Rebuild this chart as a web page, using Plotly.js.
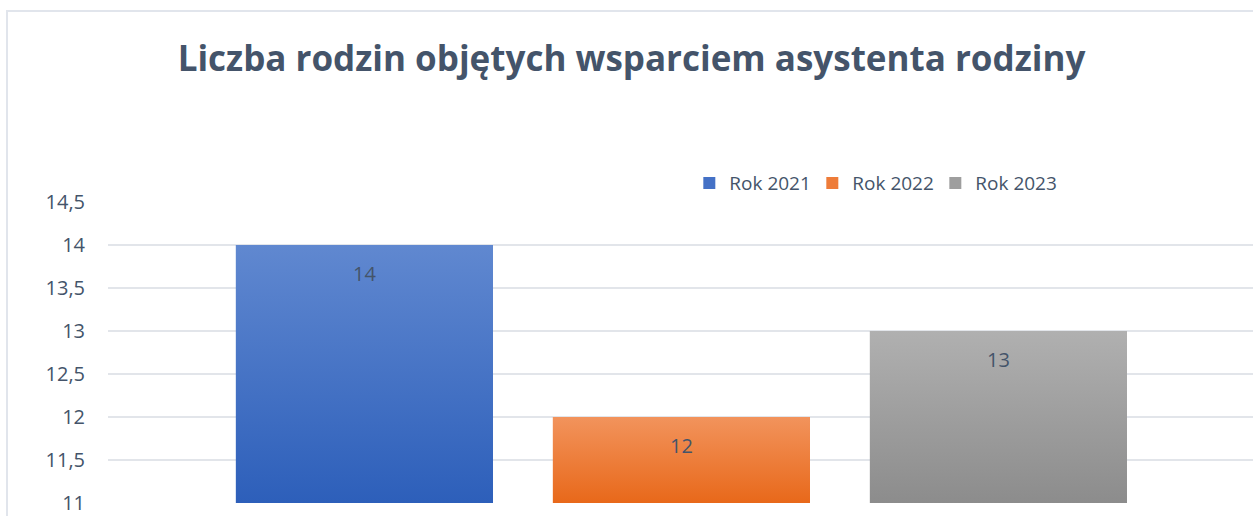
<!DOCTYPE html>
<html>
<head>
<meta charset="utf-8">
<script src="https://cdn.plot.ly/plotly-3.0.1.min.js"></script>
<style>
  html, body { margin: 0; padding: 0; background: #fff; overflow: hidden; }
  #chart { position: absolute; left: 0; top: 0; width: 1253px; height: 516px; }
  #frame { position: absolute; left: 6px; top: 10px; right: -10px; bottom: -10px;
           border-left: 2px solid #e1e5ec; border-top: 2px solid #e1e5ec; pointer-events: none; }
</style>
</head>
<body>
<div id="chart"></div>
<div id="frame"></div>
<script>
// ---- data ----
const chartTitle = 'Liczba rodzin objętych wsparciem asystenta rodziny';
const seriesNames = ['Rok 2021', 'Rok 2022', 'Rok 2023'];
const seriesValues = [14, 12, 13];
const topColors = ['#6088d0', '#f2935c', '#b0b0b0'];
const midColors = ['#4471c6', '#ee7c39', '#9e9e9e'];
const bottomColors = ['#2d5fba', '#e8681a', '#8c8c8c'];
const yTickVals = [11, 11.5, 12, 12.5, 13, 13.5, 14, 14.5];
const yTickText = ['11', '11,5', '12', '12,5', '13', '13,5', '14', '14,5'];
const yMin = 11, yMax = 14.5;

// ---- layout helpers ----
const barWidth = 0.811;          // fraction of category slot
const textColor = '#44546a';
const fontFam = '"Open Sans", "Noto Sans", sans-serif';

const traces = [];
// legend / base bars
seriesNames.forEach((name, i) => {
  traces.push({
    type: 'bar', name: name, x: [i], y: [seriesValues[i] - yMin], base: [yMin],
    width: [barWidth],
    marker: { color: midColors[i], line: { width: 0 } },
    hoverinfo: 'skip'
  });
});
// gradient overlays computed from the same data
seriesNames.forEach((name, i) => {
  const x0 = i - barWidth / 2, x1 = i + barWidth / 2, v = seriesValues[i];
  traces.push({
    type: 'scatter', mode: 'none', showlegend: false, hoverinfo: 'skip',
    x: [x0, x1, x1, x0, x0], y: [yMin, yMin, v, v, yMin],
    fill: 'toself',
    fillgradient: { type: 'vertical', colorscale: [[0, bottomColors[i]], [1, topColors[i]]] }
  });
});

const annotations = seriesValues.map((v, i) => ({
  x: i, y: v, xref: 'x', yref: 'y', text: String(v), showarrow: false,
  yanchor: 'middle', yshift: -28,
  font: { family: fontFam, size: 20, color: textColor }
}));

const layout = {
  width: 1253, height: 516,
  margin: { l: 108, r: 0, t: 202, b: 13 },
  paper_bgcolor: '#ffffff', plot_bgcolor: '#ffffff',
  separators: ', ',
  title: {
    text: '<b>' + chartTitle + '</b>',
    x: 0.504, xanchor: 'center', xref: 'container',
    y: 0.8857, yref: 'container', yanchor: 'middle',
    font: { family: fontFam, size: 35, color: textColor }
  },
  barmode: 'overlay',
  xaxis: {
    type: 'linear', range: [-0.809, 2.803], showticklabels: false, showgrid: false,
    zeroline: false, showline: false, ticks: '', fixedrange: true
  },
  yaxis: {
    range: [yMin, yMax], tickvals: yTickVals, ticktext: yTickText,
    showgrid: true, gridcolor: '#e2e5ea', gridwidth: 1.5,
    zeroline: false, showline: false, ticks: '',
    ticklabelstandoff: 22,
    tickfont: { family: fontFam, size: 20, color: textColor }
  },
  legend: {
    orientation: 'h', x: 0.5077, xanchor: 'left', y: 1.063, yanchor: 'middle',
    entrywidth: 78, entrywidthmode: 'pixels',
    font: { family: fontFam, size: 19, color: textColor },
    bgcolor: 'rgba(0,0,0,0)', itemclick: false, itemdoubleclick: false
  },
  annotations: annotations,
  showlegend: true
};

Plotly.newPlot('chart', traces, layout, { displayModeBar: false, staticPlot: true });
</script>
</body>
</html>
